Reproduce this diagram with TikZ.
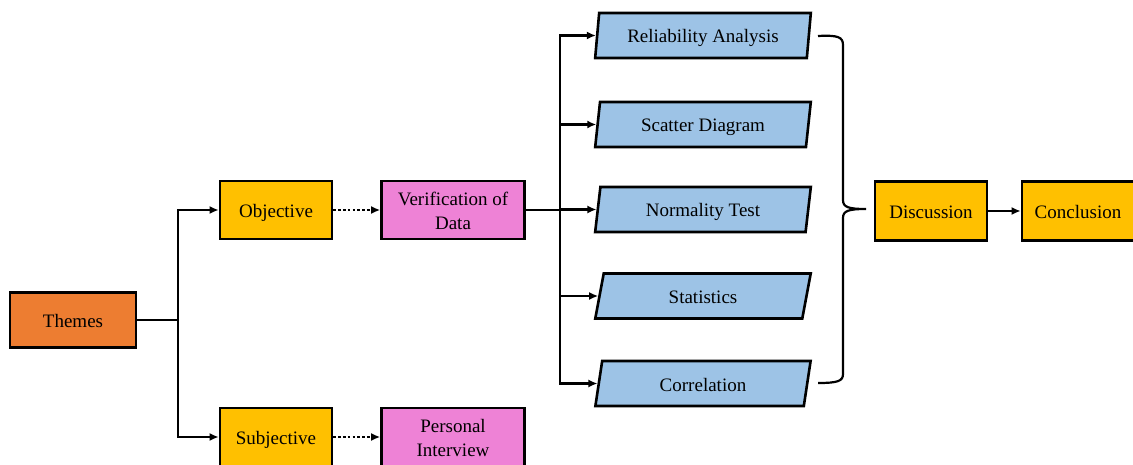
\documentclass[tikz,border=0pt]{standalone}
\usepackage{fontspec}
\setmainfont{Liberation Serif}
\usetikzlibrary{arrows.meta,shapes.geometric}
\definecolor{cOrange}{HTML}{ED7D31}
\definecolor{cGold}{HTML}{FFC000}
\definecolor{cPink}{HTML}{EE82D6}
\definecolor{cBlue}{HTML}{9DC3E6}
\tikzset{
  txt/.style={font=\rmfamily\fontsize{19pt}{23.3pt}\selectfont, text height=15pt, text depth=0pt},
  twolines/.style={text height=38.3pt},
  box/.style={draw=black, line width=2.6pt, inner sep=0pt, align=center, txt},
  orangebox/.style={box, fill=cOrange, minimum width=126pt, minimum height=55pt},
  goldbox/.style={box, fill=cGold, minimum width=112pt, minimum height=58pt},
  pinkbox/.style={box, fill=cPink, minimum width=143pt, minimum height=58pt, twolines},
  parbox/.style={draw=black, line width=2.6pt, fill=cBlue, inner sep=0pt,
    trapezium, trapezium left angle=79, trapezium right angle=101,
    trapezium stretches=true, minimum width=216pt, minimum height=45pt, txt},
  conn/.style={line width=2.2pt, draw=black},
  arr/.style={conn, -{Latex[length=9pt,width=8pt]}},
  dotarr/.style={arr, dash pattern=on 2.6pt off 2.2pt},
}
\begin{document}
\begin{tikzpicture}[x=1pt,y=-1pt]
\useasboundingbox (0,0) rectangle (1133,465);
\node[orangebox] (th) at (73,320) {Themes};
\node[goldbox] (obj) at (276,210) {Objective};
\node[goldbox] (sub) at (276,437) {Subjective};
\node[pinkbox] (ver) at (453,210) {Verification of\\Data};
\node[pinkbox] (per) at (453,437) {Personal\\Interview};
\node[parbox] (rel) at (703,35.5) {Reliability Analysis};
\node[parbox] (sca) at (703,124.5) {Scatter Diagram};
\node[parbox] (nor) at (703,209.5) {Normality Test};
\node[parbox] (sta) at (703,296) {Statistics};
\node[parbox] (cor) at (703,383.5) {Correlation};
\node[goldbox, minimum height=59pt] (dis) at (931,211) {Discussion};
\node[goldbox, minimum height=59pt] (con) at (1078,211) {Conclusion};

\coordinate (j0) at (178,320);
\draw[conn] (th.east) -- (j0);
\draw[arr] (j0) |- (obj.west);
\draw[arr] (j0) |- (sub.west);
\draw[dotarr] (obj.east) -- (ver.west);
\draw[dotarr] (sub.east) -- (per.west);

\coordinate (j1) at (560,210);
\draw[conn] (ver.east) -- (j1);
\draw[arr] (j1) |- (rel.west);
\draw[arr] (j1) |- (sca.west);
\draw[arr] (j1) |- (nor.west);
\draw[arr] (j1) |- (sta.west);
\draw[arr] (j1) |- (cor.west);

\coordinate (bt) at (818,36);
\coordinate (bb) at (818,383);
\coordinate (bm) at (866,209);
\draw[conn] (bt) .. controls (838,35) and (843,37) .. (843,45) -- (843,200)
  .. controls (843,207) and (848,209) .. (bm)
  .. controls (848,209) and (843,211) .. (843,218) -- (843,374)
  .. controls (843,381) and (838,383) .. (bb);
\draw[arr] (dis.east) -- (con.west);
\end{tikzpicture}
\end{document}
